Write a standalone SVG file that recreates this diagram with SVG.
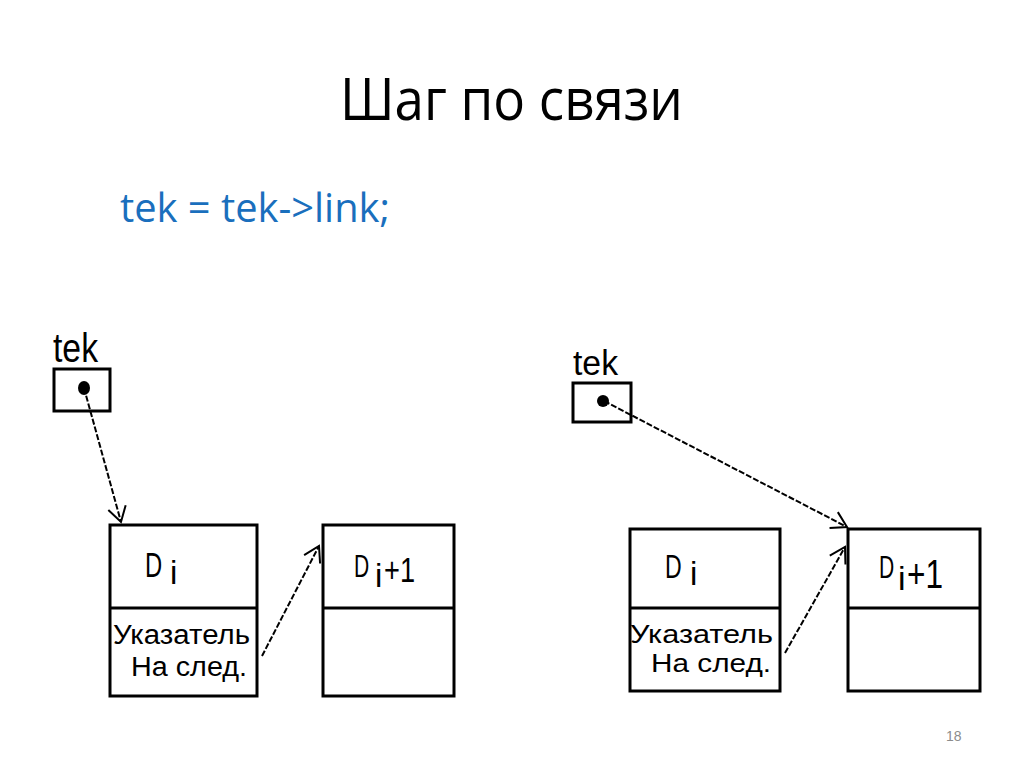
<svg xmlns="http://www.w3.org/2000/svg" width="1024" height="767" viewBox="0 0 1024 767">
<style>
.title{font-family:"Open Sans","Liberation Sans",sans-serif;font-size:58px;fill:#000}
.code{font-family:"Open Sans","Liberation Sans",sans-serif;font-size:40px;fill:#1a6fbd}
.lbl{font-family:"Liberation Sans","DejaVu Sans",sans-serif;fill:#000}
.box{fill:#fff;stroke:#000;stroke-width:3}
.div{stroke:#000;stroke-width:3}
.conn{fill:none;stroke:#000;stroke-width:2;stroke-dasharray:6 2}
.pg{font-family:"Liberation Sans",sans-serif;font-size:14px;fill:#8c8c8c}
</style>
<defs>
<marker id="arr" markerUnits="userSpaceOnUse" markerWidth="20" markerHeight="20" refX="17" refY="10" orient="auto">
<path d="M2,1 L17,10 L2,19" fill="none" stroke="#000" stroke-width="2"/>
</marker>
</defs>
<rect width="1024" height="767" fill="#fff"/>
<text class="title" x="340" y="120" textLength="343" lengthAdjust="spacingAndGlyphs">Шаг по связи</text>
<text class="code" x="120" y="222" textLength="270" lengthAdjust="spacingAndGlyphs">tek = tek-&gt;link;</text>

<g id="tek-left">
<text class="lbl" x="53" y="362" font-size="41" textLength="45" lengthAdjust="spacingAndGlyphs">tek</text>
<rect class="box" x="54" y="369" width="56" height="42"/>
<ellipse cx="84" cy="388" rx="6" ry="7" fill="#000"/>
</g>

<g id="node-di-left">
<rect class="box" x="110" y="525" width="147" height="171"/>
<line class="div" x1="110" y1="608" x2="257" y2="608"/>
<text class="lbl" font-size="35" transform="translate(145 577) scale(0.68 1)">D</text>
<text class="lbl" x="170" y="584" font-size="33">i</text>
<text class="lbl" x="113" y="644" font-size="27" textLength="137" lengthAdjust="spacingAndGlyphs">Указатель</text>
<text class="lbl" x="131" y="676" font-size="27" textLength="116" lengthAdjust="spacingAndGlyphs">На след.</text>
</g>

<g id="node-di1-left">
<rect class="box" x="323" y="525" width="131" height="171"/>
<line class="div" x1="323" y1="608" x2="454" y2="608"/>
<text class="lbl" font-size="31" transform="translate(354 577) scale(0.68 1)">D</text>
<text class="lbl" x="375" y="587" font-size="33">i</text>
<text class="lbl" x="384" y="582" font-size="35" textLength="31" lengthAdjust="spacingAndGlyphs">+1</text>
</g>

<g id="tek-right">
<text class="lbl" x="573" y="375" font-size="35" textLength="45" lengthAdjust="spacingAndGlyphs">tek</text>
<rect class="box" x="573" y="383" width="58" height="39"/>
<ellipse cx="603" cy="401" rx="6" ry="6" fill="#000"/>
</g>

<g id="node-di-right">
<rect class="box" x="630" y="529" width="150" height="162"/>
<line class="div" x1="630" y1="608" x2="780" y2="608"/>
<text class="lbl" font-size="34" transform="translate(665 578) scale(0.68 1)">D</text>
<text class="lbl" x="690" y="585" font-size="33">i</text>
<text class="lbl" x="630" y="643" font-size="26" textLength="143" lengthAdjust="spacingAndGlyphs">Указатель</text>
<text class="lbl" x="651" y="672" font-size="26" textLength="120" lengthAdjust="spacingAndGlyphs">На след.</text>
</g>

<g id="node-di1-right">
<rect class="box" x="848" y="529" width="132" height="162"/>
<line class="div" x1="848" y1="608" x2="980" y2="608"/>
<text class="lbl" font-size="31" transform="translate(879 578) scale(0.68 1)">D</text>
<text class="lbl" x="898" y="590" font-size="34">i</text>
<text class="lbl" x="907" y="588" font-size="40" textLength="36" lengthAdjust="spacingAndGlyphs">+1</text>
</g>

<g id="connectors">
<line class="conn" x1="84" y1="388" x2="121" y2="522" marker-end="url(#arr)"/>
<line class="conn" x1="262" y1="656" x2="319" y2="546" marker-end="url(#arr)"/>
<line class="conn" x1="604" y1="401" x2="847" y2="527" marker-end="url(#arr)"/>
<line class="conn" x1="785" y1="653" x2="845" y2="547" marker-end="url(#arr)"/>
</g>

<text class="pg" x="946" y="741">18</text>
</svg>
